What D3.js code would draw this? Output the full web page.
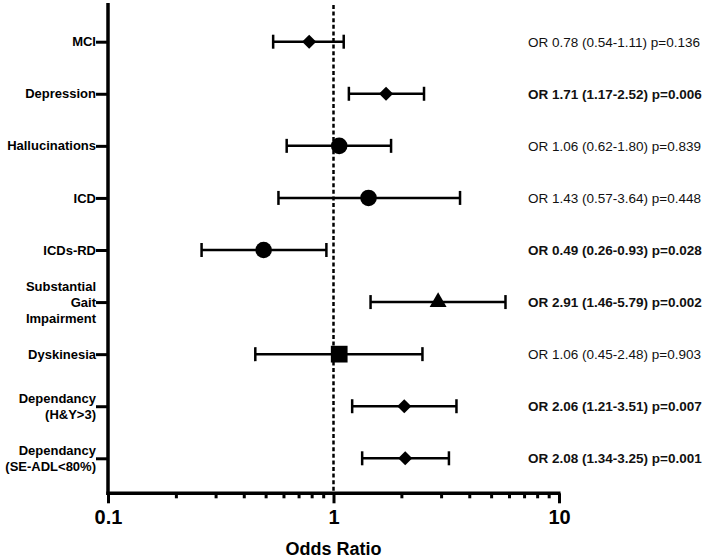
<!DOCTYPE html>
<html>
<head>
<meta charset="utf-8">
<script src="https://cdn.jsdelivr.net/npm/d3@7"></script>
<style>
  body { margin: 0; background: #fff; }
  svg { display: block; font-family: "Liberation Sans", Arial, sans-serif; }
</style>
</head>
<body>
<div id="chart"></div>
<script>
// forest plot data
const categories = ["MCI", "Depression", "Hallucinations", "ICD", "ICDs-RD",
  "Substantial\nGait\nImpairment", "Dyskinesia", "Dependancy\n(H&Y>3)", "Dependancy\n(SE-ADL<80%)"];
const oddsRatio = [0.78, 1.71, 1.06, 1.43, 0.49, 2.91, 1.06, 2.06, 2.08];
const ciLower = [0.54, 1.17, 0.62, 0.57, 0.26, 1.46, 0.45, 1.21, 1.34];
const ciUpper = [1.11, 2.52, 1.80, 3.64, 0.93, 5.79, 2.48, 3.51, 3.25];
const pValues = [0.136, 0.006, 0.839, 0.448, 0.028, 0.002, 0.903, 0.007, 0.001];
const markers = ["diamond", "diamond", "circle", "circle", "circle", "triangle", "square", "diamond", "diamond"];
const majorTicks = [0.1, 1, 10];
const minorTicks = [0.2, 0.3, 0.4, 0.5, 0.6, 0.7, 0.8, 0.9, 2, 3, 4, 5, 6, 7, 8, 9];

const width = 709, height = 558;
const left = 108, right = 559, axisY = 493.3;

const svg = d3.select("#chart").append("svg")
  .attr("width", width)
  .attr("height", height);

const x = d3.scaleLog().domain([0.1, 10]).range([left, right]);
const y = d3.scalePoint().domain(categories).range([41.7, 458.3]);

const rows = categories.map((c, i) => ({
  cat: c, or: oddsRatio[i], lo: ciLower[i], hi: ciUpper[i], p: pValues[i], marker: markers[i]
}));

// reference line at OR = 1
svg.append("line")
  .attr("x1", x(1)).attr("x2", x(1))
  .attr("y1", 5).attr("y2", axisY)
  .attr("stroke", "#000")
  .attr("stroke-width", 2.5)
  .attr("stroke-dasharray", "4,2.6");

// left axis
const yAxis = svg.append("g")
  .attr("transform", "translate(" + left + ",0)")
  .call(d3.axisLeft(y).tickSize(12).tickSizeOuter(0).tickFormat(""));
yAxis.select(".domain").remove();
yAxis.selectAll(".tick line").attr("stroke", "#000").attr("stroke-width", 3);

svg.append("line")
  .attr("x1", left).attr("x2", left)
  .attr("y1", 3).attr("y2", axisY + 1.7)
  .attr("stroke", "#000")
  .attr("stroke-width", 3.5);

// category labels (multi line)
const lineH = 16;
svg.append("g").selectAll("text")
  .data(categories)
  .join("text")
  .attr("text-anchor", "end")
  .attr("font-size", 13)
  .attr("font-weight", "bold")
  .each(function (d) {
    const lines = d.split("\n");
    const y0 = y(d) - (lines.length - 1) / 2 * lineH;
    d3.select(this).selectAll("tspan")
      .data(lines)
      .join("tspan")
      .attr("x", left - 12)
      .attr("y", (l, j) => y0 + j * lineH + 4.6)
      .text(l => l);
  });

// bottom axis
const xMajor = svg.append("g")
  .attr("transform", "translate(0," + axisY + ")")
  .call(d3.axisBottom(x).tickValues(majorTicks).tickSize(10).tickSizeOuter(0).tickFormat(d3.format("~g")));
xMajor.select(".domain").remove();
xMajor.selectAll(".tick line").attr("stroke", "#000").attr("stroke-width", 3);
xMajor.selectAll(".tick text")
  .attr("y", 17)
  .attr("dy", "0.71em")
  .attr("font-size", 20)
  .attr("font-weight", "bold")
  .attr("font-family", "Liberation Sans, Arial, sans-serif")
  .attr("fill", "#000");

const xMinor = svg.append("g")
  .attr("transform", "translate(0," + axisY + ")")
  .call(d3.axisBottom(x).tickValues(minorTicks).tickSize(5).tickFormat(""));
xMinor.select(".domain").remove();
xMinor.selectAll(".tick line").attr("stroke", "#000").attr("stroke-width", 3);

svg.append("line")
  .attr("x1", left - 1.7).attr("x2", right + 1.5)
  .attr("y1", axisY).attr("y2", axisY)
  .attr("stroke", "#000")
  .attr("stroke-width", 3.5);

svg.append("text")
  .attr("x", (left + right) / 2)
  .attr("y", 555)
  .attr("text-anchor", "middle")
  .attr("font-size", 18)
  .attr("font-weight", "bold")
  .text("Odds Ratio");

// error bars
const bars = svg.append("g").selectAll("g")
  .data(rows)
  .join("g")
  .attr("stroke", "#000")
  .attr("stroke-width", 2.5);

bars.append("line")
  .attr("x1", d => x(d.lo)).attr("x2", d => x(d.hi))
  .attr("y1", d => y(d.cat)).attr("y2", d => y(d.cat));
bars.append("line")
  .attr("x1", d => x(d.lo)).attr("x2", d => x(d.lo))
  .attr("y1", d => y(d.cat) - 7).attr("y2", d => y(d.cat) + 7);
bars.append("line")
  .attr("x1", d => x(d.hi)).attr("x2", d => x(d.hi))
  .attr("y1", d => y(d.cat) - 7).attr("y2", d => y(d.cat) + 7);

// point markers
const symbolFor = {
  diamond: d3.symbol().type(d3.symbolSquare).size(100),
  circle: d3.symbol().type(d3.symbolCircle).size(216),
  square: d3.symbol().type(d3.symbolSquare).size(280),
  triangle: d3.symbol().type(d3.symbolTriangle).size(125)
};
svg.append("g").selectAll("path")
  .data(rows)
  .join("path")
  .attr("d", d => symbolFor[d.marker]())
  .attr("transform", d => "translate(" + x(d.or) + "," + y(d.cat) + ")" + (d.marker === "diamond" ? " rotate(45)" : ""))
  .attr("fill", "#000");

// OR annotations on the right, bold when significant
const f2 = d3.format(".2f"), f3 = d3.format(".3f");
svg.append("g").selectAll("text")
  .data(rows)
  .join("text")
  .attr("x", 528)
  .attr("y", d => y(d.cat) + 4.8)
  .attr("font-size", 13.5)
  .attr("font-weight", d => d.p < 0.05 ? "bold" : "normal")
  .attr("fill", "#111")
  .text(d => "OR " + f2(d.or) + " (" + f2(d.lo) + "-" + f2(d.hi) + ") p=" + f3(d.p));
</script>
</body>
</html>
